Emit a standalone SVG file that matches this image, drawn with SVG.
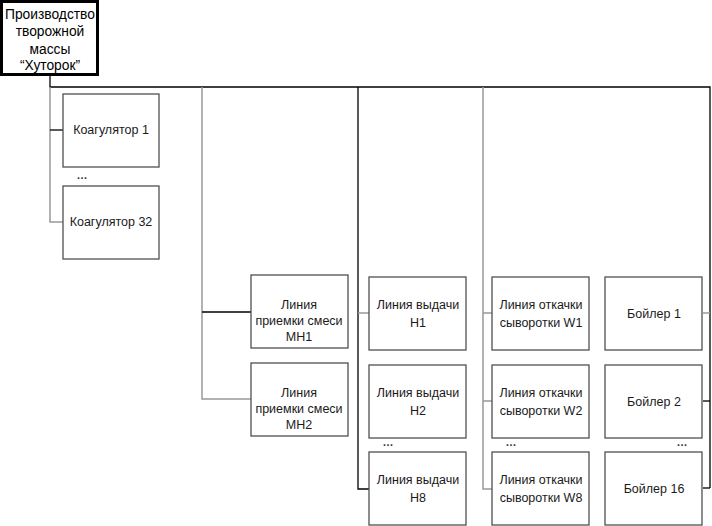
<svg xmlns="http://www.w3.org/2000/svg" width="712" height="526" viewBox="0 0 712 526">
<style>
.b{fill:#fff;stroke:#505050;stroke-width:1.3}
.r{fill:#fff;stroke:#000;stroke-width:3}
.t{font-family:"Liberation Sans",Arial,sans-serif;font-size:12.5px;fill:#1a1a1a;text-anchor:middle}
.rt{font-family:"Liberation Sans",Arial,sans-serif;font-size:13.8px;fill:#000;text-anchor:middle}
.d{stroke:#000;stroke-width:1.3;fill:none}
.g{stroke:#999;stroke-width:1.5;fill:none}
.dots{font-family:"Liberation Sans",Arial,sans-serif;font-size:11px;font-weight:bold;fill:#333;text-anchor:middle}
</style>
<rect width="712" height="526" fill="#fff"/>
<g id="connectors">
<path class="d" d="M50 75V87H710V488"/>
<path class="g" d="M50 87V222H63"/>
<path class="d" d="M50 130H63"/>
<path class="g" d="M202 87V399H251"/>
<path class="d" d="M202 312H251"/>
<path class="d" d="M358 87V489H369"/>
<path class="g" d="M358 313H369"/>
<path class="g" d="M483 87V489H492"/>
<path class="g" d="M483 313H492"/>
<path class="g" d="M483 401H492"/>
<path class="g" d="M710 313H703"/>
<path class="d" d="M710 401H703"/>
<path class="d" d="M710 488H703"/>
</g>
<g id="root"><rect class="r" x="1.5" y="1.5" width="96" height="73"/>
<text class="rt" x="50" y="19">Производство</text><text class="rt" x="50" y="36">творожной</text><text class="rt" x="50" y="54">массы</text><text class="rt" x="50" y="70">“Хуторок”</text></g>
<g id="koag1"><rect class="b" x="63" y="94" width="96" height="73"/><text class="t" x="111" y="134">Коагулятор 1</text></g>
<text class="dots" x="82" y="179">…</text>
<g id="koag32"><rect class="b" x="63" y="186" width="96" height="73"/><text class="t" x="111" y="226">Коагулятор 32</text></g>
<g id="mh1"><rect class="b" x="251" y="275" width="97" height="73"/><text class="t" x="299" y="309">Линия</text><text class="t" x="299" y="325">приемки смеси</text><text class="t" x="299" y="341">МН1</text></g>
<g id="mh2"><rect class="b" x="251" y="363" width="97" height="73"/><text class="t" x="299" y="397">Линия</text><text class="t" x="299" y="413">приемки смеси</text><text class="t" x="299" y="429">МН2</text></g>
<g id="h1"><rect class="b" x="369" y="277" width="97" height="73"/><text class="t" x="418" y="309">Линия выдачи</text><text class="t" x="418" y="327">Н1</text></g>
<g id="h2"><rect class="b" x="369" y="365" width="97" height="73"/><text class="t" x="418" y="397">Линия выдачи</text><text class="t" x="418" y="415">Н2</text></g>
<text class="dots" x="388" y="446">…</text>
<g id="h8"><rect class="b" x="369" y="452" width="97" height="73"/><text class="t" x="418" y="484">Линия выдачи</text><text class="t" x="418" y="502">Н8</text></g>
<g id="w1"><rect class="b" x="492" y="277" width="97" height="73"/><text class="t" x="541" y="309">Линия откачки</text><text class="t" x="541" y="327">сыворотки W1</text></g>
<g id="w2"><rect class="b" x="492" y="365" width="97" height="73"/><text class="t" x="541" y="397">Линия откачки</text><text class="t" x="541" y="415">сыворотки W2</text></g>
<text class="dots" x="511" y="446">…</text>
<g id="w8"><rect class="b" x="492" y="452" width="97" height="73"/><text class="t" x="541" y="484">Линия откачки</text><text class="t" x="541" y="502">сыворотки W8</text></g>
<g id="b1"><rect class="b" x="605" y="277" width="97" height="73"/><text class="t" x="654" y="318">Бойлер 1</text></g>
<g id="b2"><rect class="b" x="605" y="365" width="97" height="73"/><text class="t" x="654" y="406">Бойлер 2</text></g>
<text class="dots" x="682" y="446">…</text>
<g id="b16"><rect class="b" x="605" y="452" width="97" height="73"/><text class="t" x="654" y="493">Бойлер 16</text></g>
</svg>
